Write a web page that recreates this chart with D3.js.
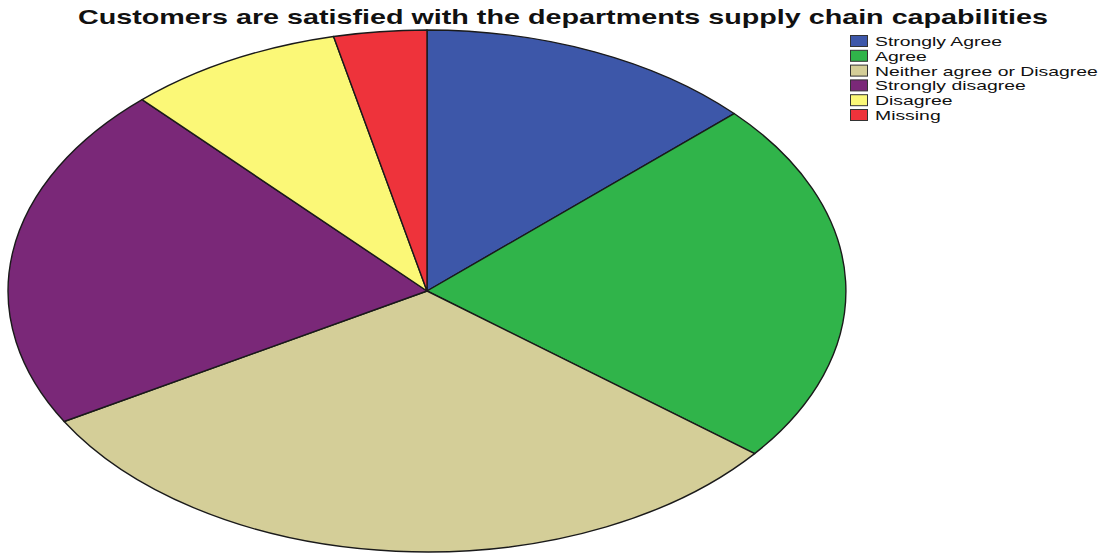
<!DOCTYPE html>
<html>
<head>
<meta charset="utf-8">
<script src="https://cdn.jsdelivr.net/npm/d3@7"></script>
<style>
  html, body { margin: 0; padding: 0; background: #fff; }
  svg { display: block; }
</style>
</head>
<body>
<svg id="chart" width="1102" height="554"></svg>
<script>
// Responses to the survey statement (counts)
const categories = ["Strongly Agree", "Agree", "Neither agree or Disagree", "Strongly disagree", "Disagree", "Missing"];
const counts = [11, 19, 26, 18, 7, 3];
const colors = ["#3d57a9", "#30b44a", "#d4ce98", "#7a2878", "#fbf877", "#ee333b"];
const title = "Customers are satisfied with the departments supply chain capabilities";

const svg = d3.select("#chart");

// Pie is drawn on a unit circle and stretched into an ellipse
const cx = 427, cy = 291, rx = 419, ry = 261;

const data = categories.map((c, i) => ({ category: c, value: counts[i] }));
const pie = d3.pie().value(d => d.value).sort(null).startAngle(0).endAngle(2 * Math.PI);
const arc = d3.arc().innerRadius(0).outerRadius(1);
const color = d3.scaleOrdinal().domain(categories).range(colors);

const g = svg.append("g")
  .attr("transform", `translate(${cx},${cy}) scale(${rx},${ry})`);

g.selectAll("path")
  .data(pie(data))
  .join("path")
  .attr("d", arc)
  .attr("fill", d => color(d.data.category))
  .attr("stroke", "#1a1a1a")
  .attr("stroke-width", 1.4)
  .attr("stroke-linejoin", "round")
  .attr("vector-effect", "non-scaling-stroke");

// Title
svg.append("text")
  .attr("x", 78)
  .attr("y", 24)
  .attr("font-family", "'Liberation Sans', Arial, sans-serif")
  .attr("font-weight", "bold")
  .attr("font-size", 21)
  .attr("fill", "#111")
  .attr("textLength", 970)
  .attr("lengthAdjust", "spacingAndGlyphs")
  .text(title);

// Legend
const legend = svg.append("g").attr("transform", "translate(850,35)");
const rowH = 14.8;
const rows = legend.selectAll("g")
  .data(categories)
  .join("g")
  .attr("transform", (d, i) => `translate(0,${i * rowH})`);

rows.append("rect")
  .attr("x", 0.5)
  .attr("y", 0.5)
  .attr("width", 17)
  .attr("height", 11)
  .attr("fill", d => color(d))
  .attr("stroke", "#333")
  .attr("stroke-width", 1);

rows.append("text")
  .attr("transform", "translate(25,11) scale(1.55,1)")
  .attr("font-family", "'Liberation Sans', Arial, sans-serif")
  .attr("font-size", 12.5)
  .attr("fill", "#111")
  .text(d => d);
</script>
</body>
</html>
